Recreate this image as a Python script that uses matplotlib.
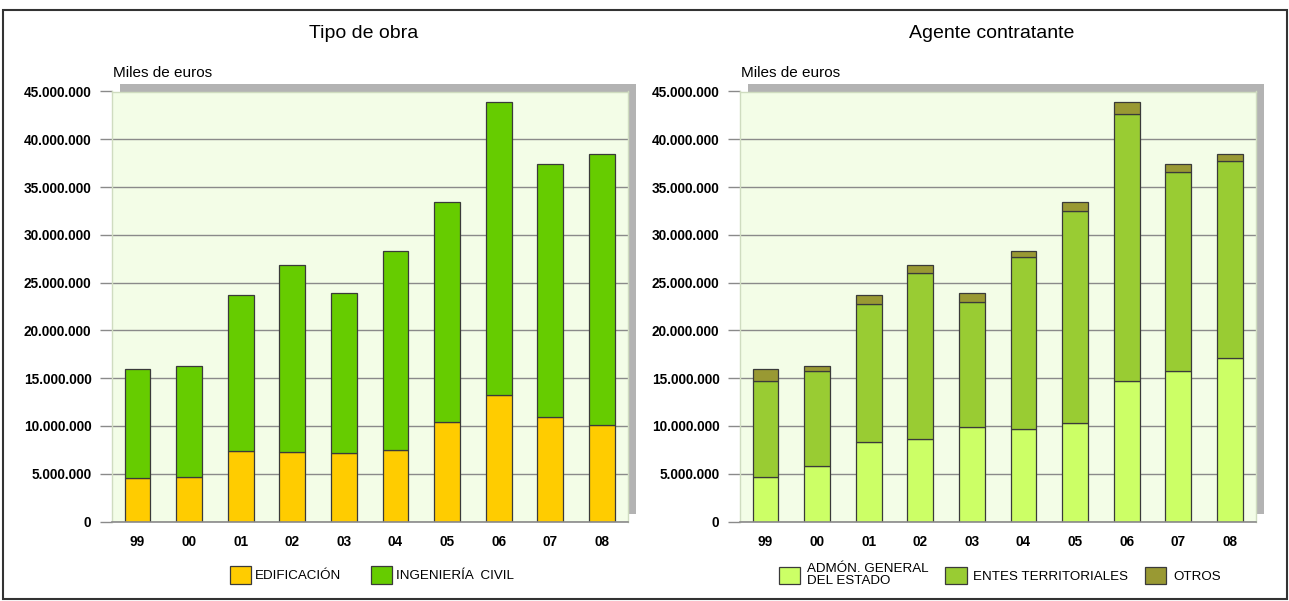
import numpy as np
import matplotlib
matplotlib.use('Agg')
import matplotlib.pyplot as plt
from matplotlib.patches import Rectangle
from matplotlib.ticker import FuncFormatter, MultipleLocator

plt.rcParams['font.family'] = ['Liberation Sans', 'DejaVu Sans']

# datos (miles de euros)
years = ['99', '00', '01', '02', '03', '04', '05', '06', '07', '08']

edificacion = [4520000, 4620000, 7410000, 7240000, 7200000, 7480000, 10440000, 13230000, 10900000, 10060000]
ingenieria = [11430000, 11650000, 16280000, 19590000, 16670000, 20780000, 22950000, 30720000, 26490000, 28380000]

admon = [4660000, 5840000, 8350000, 8630000, 9850000, 9710000, 10270000, 14670000, 15770000, 17070000]
entes = [10070000, 9870000, 14400000, 17370000, 13140000, 17920000, 22240000, 27950000, 20760000, 20640000]
otros = [1220000, 560000, 940000, 830000, 880000, 630000, 880000, 1330000, 860000, 730000]

W, H = 1289, 601
fig = plt.figure(figsize=(W / 100, H / 100), dpi=100)
fig.patch.set_facecolor('white')

# marco exterior
fig.patches.append(Rectangle((3 / W, 2 / H), 1284 / W, 589 / H, transform=fig.transFigure,
                             fill=False, edgecolor='#333333', linewidth=1.5))

tick_font = dict(family='Liberation Sans', weight='bold', size=9.8)
fmt = FuncFormatter(lambda v, p: '{:,.0f}'.format(v).replace(',', '.'))


def make_axes(left_px, title, title_x):
    rect = [left_px / W, (H - 521.5) / H, 516 / W, 430 / H]
    # sombra gris
    fig.patches.append(Rectangle(((left_px + 8) / W, (H - 521.5 + 8) / H), 516 / W, 430 / H,
                                 transform=fig.transFigure, facecolor='#b3b3b3',
                                 edgecolor='none', zorder=-5))
    ax = fig.add_axes(rect)
    ax.set_facecolor('#f3fde7')
    ax.set_xlim(-0.5, 9.5)
    ax.set_ylim(0, 45000000)
    ax.yaxis.set_major_locator(MultipleLocator(5000000))
    ax.yaxis.set_major_formatter(fmt)
    ax.set_axisbelow(True)
    ax.yaxis.grid(True, color='#8a8a8a', linewidth=1)
    ax.tick_params(axis='y', length=8.6, width=1, color='#8a8a8a', pad=6)
    ax.tick_params(axis='x', length=0, pad=10)
    for s in ['left', 'top', 'right']:
        ax.spines[s].set_color('#cfdcc0')
        ax.spines[s].set_linewidth(1)
    ax.spines['bottom'].set_color('#8a8a8a')
    ax.spines['bottom'].set_linewidth(1.2)
    ax.set_xticks(range(len(years)))
    ax.set_xticklabels(years)
    for lab in ax.get_xticklabels() + ax.get_yticklabels():
        lab.set_fontproperties(matplotlib.font_manager.FontProperties(**tick_font))
    fig.canvas.draw()
    ax.get_ygridlines()[-1].set_visible(False)
    ax.yaxis.get_major_ticks()[-1].tick1line.set_visible(False)
    fig.text((left_px + 1) / W, 1 - 73 / H, 'Miles de euros', fontsize=11, va='center', ha='left')
    fig.text(title_x / W, 1 - 33 / H, title, fontsize=14, va='center', ha='center')
    return ax


x = np.arange(len(years))
bar_kw = dict(width=0.5, edgecolor='#3a3a3a', linewidth=0.9)

# Tipo de obra
ax1 = make_axes(111.7, 'Tipo de obra', 364)
b1 = ax1.bar(x, edificacion, color='#ffcc00', **bar_kw)
b2 = ax1.bar(x, ingenieria, bottom=edificacion, color='#66cc00', **bar_kw)
ax1.legend([b1, b2], ['EDIFICACIÓN', 'INGENIERÍA  CIVIL'], loc='center left',
           bbox_to_anchor=(230 / W, 1 - 575 / H), bbox_transform=fig.transFigure,
           ncol=2, frameon=False, fontsize=9.6, handlelength=1.6, handleheight=1.6,
           handletextpad=0.3, columnspacing=2.2, borderpad=0, borderaxespad=0)

# Agente contratante
ax2 = make_axes(739.7, 'Agente contratante', 992)
bottom2 = np.array(admon)
c1 = ax2.bar(x, admon, color='#ccff66', **bar_kw)
c2 = ax2.bar(x, entes, bottom=bottom2, color='#99cc33', **bar_kw)
c3 = ax2.bar(x, otros, bottom=bottom2 + np.array(entes), color='#999933', **bar_kw)
leg = ax2.legend([c1, c2, c3], ['ADMÓN. GENERAL\nDEL ESTADO', 'ENTES TERRITORIALES', 'OTROS'],
                 loc='center left', bbox_to_anchor=(779 / W, 1 - 575 / H),
                 bbox_transform=fig.transFigure, ncol=3, frameon=False, fontsize=9.6,
                 handlelength=1.6, handleheight=1.6, handletextpad=0.5,
                 columnspacing=1.25, borderpad=0, borderaxespad=0)
for t in leg.get_texts():
    t.set_linespacing(0.95)

fig.savefig('out.png', dpi=100)
